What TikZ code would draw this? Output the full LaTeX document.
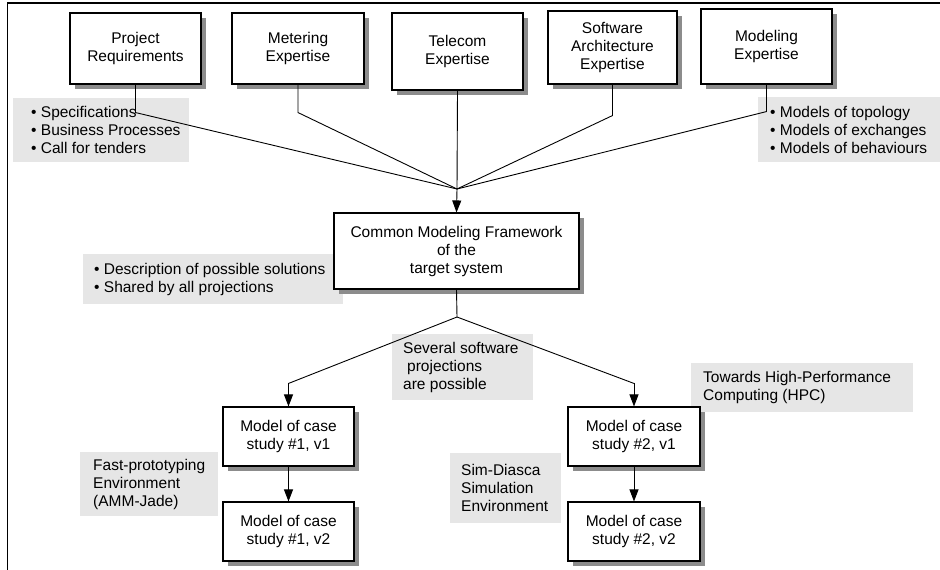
\documentclass[tikz,border=0pt]{standalone}
\usepackage{fontspec}
\setmainfont{Liberation Sans}
\usetikzlibrary{shadows,arrows.meta}
\definecolor{notegray}{HTML}{E6E6E6}
\definecolor{shadowgray}{HTML}{8C8C8C}
\newcommand{\diagfont}{\fontsize{15.5}{18}\selectfont}
\begin{document}
\begin{tikzpicture}[x=1pt,y=-1pt,
  box/.style={draw, line width=1.1pt, fill=white, align=center, font=\diagfont, inner sep=0pt,
    drop shadow={shadow xshift=5pt, shadow yshift=-5pt, fill=shadowgray, opacity=1}},
  note/.style={fill=notegray, draw=none, inner sep=0pt, anchor=north west},
  notetext/.style={anchor=west, align=left, font=\diagfont, inner sep=0pt},
  conn/.style={line width=0.9pt},
  arr/.style={line width=0.9pt, -{Triangle[length=12pt,width=9pt]}}]
\useasboundingbox (0,0) rectangle (940,570);
\draw[line width=1.5pt] (7.5,570) -- (7.5,3) -- (940,3);

% notes
\node[note, minimum width=176pt, minimum height=64pt] (nA) at (13,98) {};
\node[notetext] (tA) at ([xshift=18pt]nA.west) {• Specifications\\• Business Processes\\• Call for tenders};
\node[note, minimum width=182pt, minimum height=65pt] (nB) at (758,97) {};
\node[notetext] (tB) at ([xshift=12pt]nB.west) {• Models of topology\\• Models of exchanges\\• Models of behaviours};
\node[note, minimum width=260pt, minimum height=50pt] (nC) at (83,254) {};
\node[notetext] (tC) at ([xshift=11pt]nC.west) {• Description of possible solutions\\• Shared by all projections};
\node[note, minimum width=141pt, minimum height=66pt] (nD) at (392,334) {};
\node[notetext] (tD) at ([xshift=11pt]nD.west) {Several software\\\hspace{4pt}projections\\are possible};
\node[note, minimum width=222pt, minimum height=49pt] (nE) at (691,363) {};
\node[notetext] (tE) at ([xshift=12pt]nE.west) {Towards High-Performance\\Computing (HPC)};
\node[note, minimum width=138pt, minimum height=64pt] (nF) at (80,452) {};
\node[notetext] (tF) at ([xshift=13pt]nF.west) {Fast-prototyping\\Environment\\(AMM-Jade)};
\node[note, minimum width=111pt, minimum height=70pt] (nG) at (450,453) {};
\node[notetext] (tG) at ([xshift=11pt]nG.west) {Sim-Diasca\\Simulation\\Environment};

% boxes
\node[box, minimum width=131pt, minimum height=71pt] (proj) at (135.5,48.5) {Project\\Requirements};
\node[box, minimum width=132pt, minimum height=71pt] (meter) at (298,48.5) {Metering\\Expertise};
\node[box, minimum width=131pt, minimum height=77pt] (tel) at (457.5,51.5) {Telecom\\Expertise};
\node[box, minimum width=129pt, minimum height=73pt] (soft) at (612.5,47.5) {Software\\Architecture\\Expertise};
\node[box, minimum width=131pt, minimum height=75pt] (mod) at (766.5,46.5) {Modeling\\Expertise};
\node[box, minimum width=245pt, minimum height=76pt] (cmf) at (456.5,251) {Common Modeling Framework\\of the\\target system};
\node[box, minimum width=131pt, minimum height=59pt] (m11) at (288.5,436.5) {Model of case\\study \#1, v1};
\node[box, minimum width=131pt, minimum height=59pt] (m12) at (288.5,531.5) {Model of case\\study \#1, v2};
\node[box, minimum width=132pt, minimum height=59pt] (m21) at (634,436.5) {Model of case\\study \#2, v1};
\node[box, minimum width=132pt, minimum height=59pt] (m22) at (634,531.5) {Model of case\\study \#2, v2};

% connectors
\coordinate (join) at (457,189);
\coordinate (split) at (457,317);
\draw[conn] (proj.south) -- ++(0,28) -- (join);
\draw[conn] (meter.south) -- ++(0,28) -- (join);
\draw[conn] (tel.south) -- (join);
\draw[conn] (soft.south) -- ++(0,31) -- (join);
\draw[conn] (mod.south) -- ++(0,27) -- (join);
\draw[arr] (join) -- (cmf.north);
\draw[conn] (cmf.south) -- (split);
\draw[conn] (split) -- ([yshift=23pt]m11.north);
\draw[arr] ([yshift=23pt]m11.north) -- (m11.north);
\draw[conn] (split) -- ([yshift=23pt]m21.north);
\draw[arr] ([yshift=23pt]m21.north) -- (m21.north);
\draw[arr] (m11.south) -- (m12.north);
\draw[arr] (m21.south) -- (m22.north);
\end{tikzpicture}
\end{document}
